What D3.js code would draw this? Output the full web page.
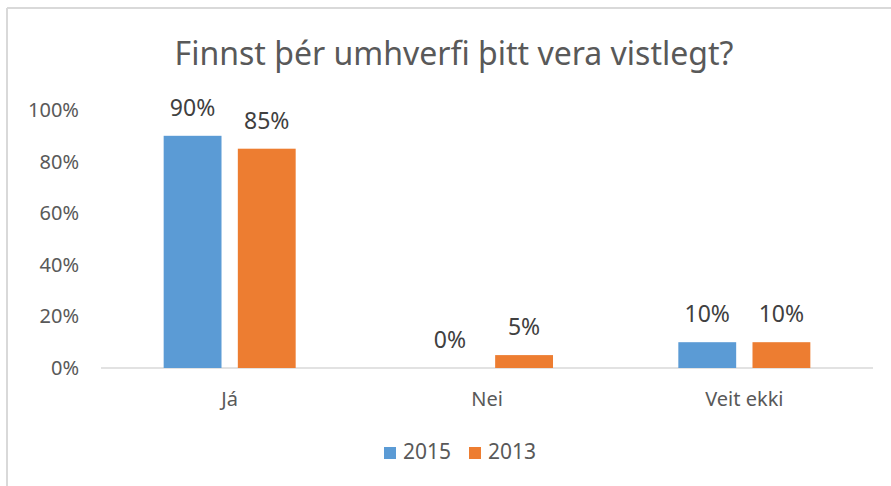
<!DOCTYPE html>
<html>
<head>
<meta charset="utf-8">
<script src="https://cdn.jsdelivr.net/npm/d3@7"></script>
<style>
  body { margin: 0; background: #fff; }
  text { font-family: "Noto Sans", "Liberation Sans", sans-serif; }
</style>
</head>
<body>
<div id="chart"></div>
<script>
// data
var categories = ["Já", "Nei", "Veit ekki"];
var seriesNames = ["2015", "2013"];
var values2015 = [0.90, 0.00, 0.10];
var values2013 = [0.85, 0.05, 0.10];
var yTicks = [0, 0.2, 0.4, 0.6, 0.8, 1.0];
var colors = ["#5B9BD5", "#ED7D31"];

var svgWidth = 891;
var svgHeight = 486;

var svg = d3.select("#chart")
  .append("svg")
  .attr("width", svgWidth)
  .attr("height", svgHeight);

// frame of the chart area (top and left edge only are visible)
svg.append("line")
  .attr("x1", 7).attr("x2", svgWidth)
  .attr("y1", 8).attr("y2", 8)
  .attr("stroke", "#d9d9d9").attr("stroke-width", 2);
svg.append("line")
  .attr("x1", 7).attr("x2", 7)
  .attr("y1", 8).attr("y2", svgHeight)
  .attr("stroke", "#d9d9d9").attr("stroke-width", 2);

// title
svg.append("text")
  .attr("x", 454)
  .attr("y", 65)
  .attr("text-anchor", "middle")
  .attr("font-size", 32)
  .attr("fill", "#595959")
  .text("Finnst þér umhverfi þitt vera vistlegt?");

var plotLeft = 101, plotRight = 873, plotTop = 110, plotBottom = 368;

var x0 = d3.scaleBand()
  .domain(categories)
  .range([plotLeft, plotRight])
  .paddingInner(0.487)
  .paddingOuter(0.2435);

var x1 = d3.scaleBand()
  .domain(seriesNames)
  .range([0, x0.bandwidth()])
  .paddingInner(0.22);

var yScale = d3.scaleLinear()
  .domain([0, 1])
  .range([plotBottom, plotTop]);

// y axis labels (no axis line, no gridlines)
var yAxis = d3.axisLeft(yScale)
  .tickValues(yTicks)
  .tickFormat(d3.format(".0%"))
  .tickSize(0)
  .tickPadding(0);

svg.append("g")
  .attr("class", "yAxis")
  .attr("transform", "translate(79,0)")
  .call(yAxis)
  .call(function(g) { g.select(".domain").remove(); })
  .selectAll("text")
  .attr("font-size", 20)
  .attr("fill", "#595959")
  .attr("font-family", "'Noto Sans', sans-serif");

// x axis baseline + category labels
var xAxis = d3.axisBottom(x0).tickSize(0).tickPadding(0);
var xg = svg.append("g")
  .attr("class", "xAxis")
  .attr("transform", "translate(0," + plotBottom + ")")
  .call(xAxis);
xg.select(".domain").remove();
xg.append("line")
  .attr("x1", plotLeft).attr("x2", plotRight)
  .attr("y1", 0).attr("y2", 0)
  .attr("stroke", "#d9d9d9").attr("stroke-width", 1.5);
xg.selectAll(".tick text")
  .attr("y", 38)
  .attr("dy", 0)
  .attr("font-size", 20)
  .attr("fill", "#595959")
  .attr("font-family", "'Noto Sans', sans-serif");

// bars
var rows = categories.map(function(c, i) {
  return { cat: c, vals: [
    { name: seriesNames[0], v: values2015[i], color: colors[0] },
    { name: seriesNames[1], v: values2013[i], color: colors[1] }
  ] };
});

var groups = svg.selectAll("g.cat")
  .data(rows)
  .enter()
  .append("g")
  .attr("class", "cat")
  .attr("transform", function(d) { return "translate(" + x0(d.cat) + ",0)"; });

groups.selectAll("rect")
  .data(function(d) { return d.vals; })
  .enter()
  .append("rect")
  .attr("x", function(d) { return x1(d.name); })
  .attr("y", function(d) { return yScale(d.v); })
  .attr("width", x1.bandwidth())
  .attr("height", function(d) { return plotBottom - yScale(d.v); })
  .attr("fill", function(d) { return d.color; });

// data labels
groups.selectAll("text.val")
  .data(function(d) { return d.vals; })
  .enter()
  .append("text")
  .attr("class", "val")
  .attr("x", function(d) { return x1(d.name) + x1.bandwidth() / 2; })
  .attr("y", function(d) { return yScale(d.v) - 20; })
  .attr("text-anchor", "middle")
  .attr("font-size", 23)
  .attr("fill", "#404040")
  .text(function(d) { return d3.format(".0%")(d.v); });

// legend
var legendX = [384, 469];
var legend = svg.selectAll("g.legend")
  .data(seriesNames)
  .enter()
  .append("g")
  .attr("class", "legend")
  .attr("transform", function(d, i) { return "translate(" + legendX[i] + ",447)"; });

legend.append("rect")
  .attr("width", 12)
  .attr("height", 12)
  .attr("fill", function(d, i) { return colors[i]; });

legend.append("text")
  .attr("x", 19)
  .attr("y", 12)
  .attr("font-size", 21)
  .attr("fill", "#595959")
  .text(function(d) { return d; });
</script>
</body>
</html>
